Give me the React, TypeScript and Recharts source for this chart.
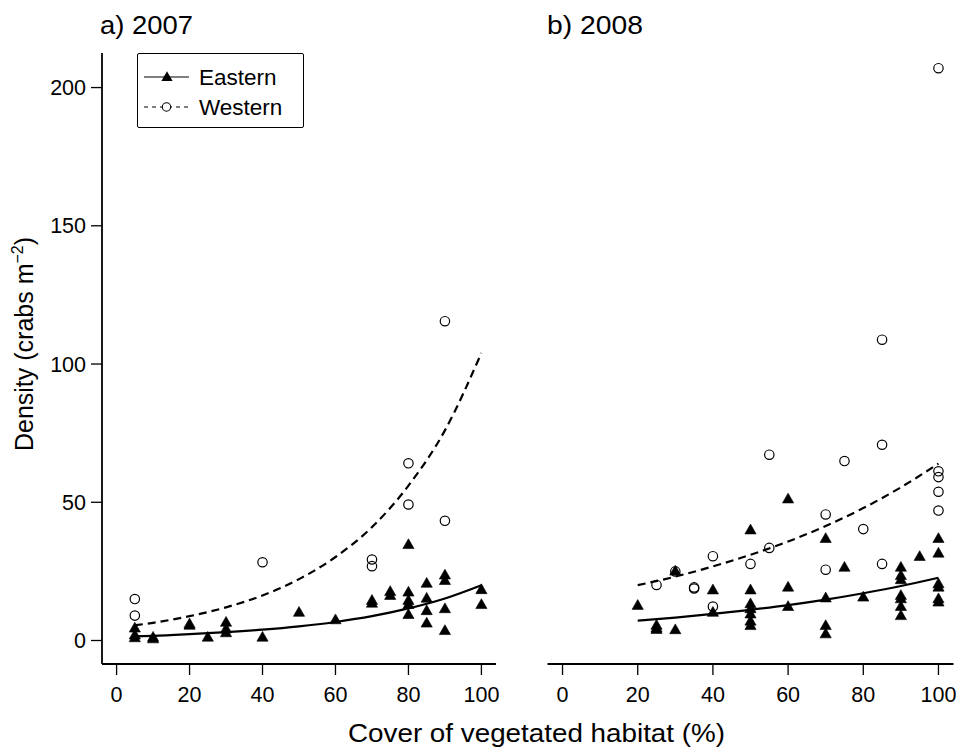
import React from 'react';
import { ComposedChart, Scatter, Line, XAxis, YAxis, Legend } from 'recharts';

const FONT = '"Liberation Sans", Arial, Helvetica, sans-serif';

const xTicks = [0, 20, 40, 60, 80, 100];
const yTicks = [0, 50, 100, 150, 200];

const eastern2007: [number, number][] = [
  [5, 4.5], [5, 2], [5, 1], [10, 1.2], [10, 0.6], [20, 6], [20, 5.5], [25, 1.2],
  [30, 6.6], [30, 4.2], [30, 2.8], [40, 1.2], [50, 10.2], [60, 7.5], [70, 14.5],
  [70, 13.5], [75, 17.7], [75, 16.3], [80, 34.7], [80, 17.5], [80, 14.5], [80, 13],
  [80, 9.4], [85, 20.7], [85, 15.3], [85, 10.8], [85, 6.3], [90, 23.7], [90, 21.7],
  [90, 11.5], [90, 3.6], [100, 18.4], [100, 13],
];
const western2007: [number, number][] = [
  [5, 15], [5, 9], [40, 28.3], [70, 29.3], [70, 26.9], [80, 64.1], [80, 49.2],
  [90, 43.3], [90, 115.5],
];
const eastern2008: [number, number][] = [
  [20, 12.7], [25, 5.5], [25, 4.5], [25, 4], [30, 3.9], [30, 25.1], [40, 18.3],
  [40, 10.2], [50, 40], [50, 18.3], [50, 13.3], [50, 11.5], [50, 9.6], [50, 7],
  [50, 5.4], [60, 51.2], [60, 19.3], [60, 12.3], [70, 36.9], [70, 15.4], [70, 5.4],
  [70, 2.4], [75, 26.5], [80, 15.7], [90, 26.5], [90, 23.5], [90, 22], [90, 16.3],
  [90, 15.1], [90, 12.3], [90, 9], [95, 30.4], [100, 36.9], [100, 31.6], [100, 20.5],
  [100, 19.3], [100, 15.1], [100, 13.9],
];
const western2008: [number, number][] = [
  [25, 20.1], [30, 25], [35, 19.2], [35, 18.8], [40, 30.5], [40, 12.3], [50, 27.7],
  [55, 67.2], [55, 33.5], [70, 45.6], [70, 25.6], [75, 64.9], [80, 40.3], [85, 108.8],
  [85, 70.8], [85, 27.7], [100, 207], [100, 61.2], [100, 59.1], [100, 53.8], [100, 47],
];

const westFit2007: [number, number][] = [
  [5, 5.5], [10, 6.4], [20, 8.8], [30, 12], [40, 16.3], [50, 22.2], [60, 30.2],
  [70, 41], [80, 56], [90, 76], [100, 104],
];
const eastFit2007: [number, number][] = [
  [5, 1.5], [10, 1.7], [20, 2.3], [30, 3.0], [40, 3.9], [50, 5.1], [60, 6.7],
  [70, 8.8], [80, 11.6], [90, 15.2], [100, 20],
];
const westFit2008: [number, number][] = [
  [20, 20], [30, 23.1], [40, 26.8], [50, 31], [60, 35.8], [70, 41.4], [80, 47.9],
  [90, 55.4], [100, 64],
];
const eastFit2008: [number, number][] = [
  [20, 7.2], [30, 8.3], [40, 9.6], [50, 11.1], [60, 12.8], [70, 14.8], [80, 17.1],
  [90, 19.7], [100, 22.7],
];

const toObj = (arr: [number, number][]) => arr.map(([x, y]) => ({ x, y }));

const Triangle = (props: any) => {
  const { cx, cy } = props;
  if (cx == null || cy == null) return null;
  return (
    <polygon
      points={`${cx},${cy - 5.8} ${cx - 5.6},${cy + 4} ${cx + 5.6},${cy + 4}`}
      fill="#000"
      stroke="#000"
      strokeWidth={0.6}
    />
  );
};

const Ring = (props: any) => {
  const { cx, cy } = props;
  if (cx == null || cy == null) return null;
  return <circle cx={cx} cy={cy} r={4.7} fill="none" stroke="#000" strokeWidth={1.2} />;
};

const renderLegend = () => (
  <div
    style={{
      width: 167,
      height: 75,
      boxSizing: 'border-box',
      border: '1.3px solid #000',
      borderRadius: 2,
      background: '#fff',
      fontFamily: FONT,
    }}
  >
    <svg width={165} height={73} style={{ display: 'block' }}>
      <line x1={6} y1={23} x2={51} y2={23} stroke="#000" strokeWidth={1.2} />
      <polygon points="29,17.2 23.4,27 34.6,27" fill="#000" />
      <text x={61} y={31} fontSize={22.5} fontFamily={FONT} fill="#000">Eastern</text>
      <line x1={6} y1={53} x2={51} y2={53} stroke="#000" strokeWidth={1.2} strokeDasharray="4 4" />
      <circle cx={28.5} cy={53} r={4.2} fill="#fff" stroke="#000" strokeWidth={1.1} />
      <text x={61} y={61} fontSize={22.5} fontFamily={FONT} fill="#000">Western</text>
    </svg>
  </div>
);

const axisLine = { stroke: '#000', strokeWidth: 1.8 };
const tickLine = { stroke: '#000', strokeWidth: 1.3 };
const tickStyle = { fill: '#000', fontSize: 21.5, fontFamily: FONT };

function Panel(props: {
  east: [number, number][];
  west: [number, number][];
  eastFit: [number, number][];
  westFit: [number, number][];
  width: number;
  margin: any;
  showYTicks: boolean;
  legend?: boolean;
}) {
  const { east, west, eastFit, westFit, width, margin, showYTicks, legend } = props;
  return (
    <ComposedChart width={width} height={748} margin={margin}>
      <XAxis
        type="number"
        dataKey="x"
        domain={[-4, 104]}
        allowDataOverflow
        ticks={xTicks}
        interval={0}
        height={40}
        axisLine={axisLine}
        tickLine={tickLine}
        tickSize={11}
        tickMargin={12}
        tick={tickStyle}
      />
      <YAxis
        type="number"
        dataKey="y"
        domain={[-8.5, 212.5]}
        allowDataOverflow
        ticks={yTicks}
        interval={0}
        width={showYTicks ? 60 : 0}
        axisLine={axisLine}
        tickLine={showYTicks ? tickLine : false}
        tickSize={11}
        tickMargin={5}
        tick={showYTicks ? tickStyle : false}
      />
      {legend && (
        <Legend
          layout="horizontal"
          verticalAlign="middle"
          align="center"
          content={renderLegend}
          wrapperStyle={{ left: 137, top: 53, width: 167, height: 75 }}
        />
      )}
      <Scatter data={toObj(east)} shape={<Triangle />} isAnimationActive={false} />
      <Scatter data={toObj(west)} shape={<Ring />} isAnimationActive={false} />
      <Line
        data={toObj(eastFit)}
        dataKey="y"
        type="monotone"
        dot={false}
        stroke="#000"
        strokeWidth={2.2}
        isAnimationActive={false}
      />
      <Line
        data={toObj(westFit)}
        dataKey="y"
        type="monotone"
        dot={false}
        stroke="#000"
        strokeWidth={2.2}
        strokeDasharray="8 5"
        isAnimationActive={false}
      />
    </ComposedChart>
  );
}

export default function App() {
  return (
    <div
      style={{
        position: 'fixed',
        left: 0,
        top: 0,
        width: 956,
        height: 748,
        overflow: 'hidden',
        background: '#fff',
        fontFamily: FONT,
      }}
    >
      <div style={{ position: 'absolute', left: 0, top: 0 }}>
        <Panel
          east={eastern2007}
          west={western2007}
          eastFit={eastFit2007}
          westFit={westFit2007}
          width={510}
          margin={{ top: 53, right: 14, bottom: 44, left: 42 }}
          showYTicks
          legend
        />
      </div>
      <div style={{ position: 'absolute', left: 500, top: 0 }}>
        <Panel
          east={eastern2008}
          west={western2008}
          eastFit={eastFit2008}
          westFit={westFit2008}
          width={456}
          margin={{ top: 53, right: 2.5, bottom: 44, left: 47.5 }}
          showYTicks={false}
        />
      </div>
      <svg
        width={956}
        height={748}
        style={{ position: 'absolute', left: 0, top: 0, pointerEvents: 'none' }}
      >
        <text x={100} y={34} fontSize={25} fontFamily={FONT} fill="#000" textLength={93} lengthAdjust="spacingAndGlyphs">a) 2007</text>
        <text x={547} y={34} fontSize={25} fontFamily={FONT} fill="#000" textLength={96} lengthAdjust="spacingAndGlyphs">b) 2008</text>
        <text x={348} y={742} fontSize={25} fontFamily={FONT} fill="#000" textLength={377} lengthAdjust="spacingAndGlyphs">Cover of vegetated habitat (%)</text>
        <text
          x={33}
          y={344}
          transform="rotate(-90 33 344)"
          textAnchor="middle"
          fontSize={25}
          fontFamily={FONT}
          fill="#000"
        >
          Density (crabs m<tspan dy={-10} fontSize={16}>−2</tspan><tspan dy={10}>)</tspan>
        </text>
      </svg>
    </div>
  );
}
